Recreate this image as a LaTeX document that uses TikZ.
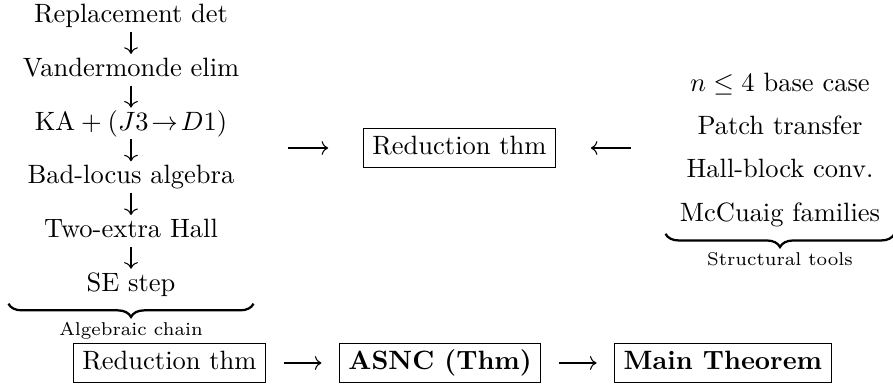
\documentclass[tikz,border=0pt]{standalone}
\usepackage{amsmath,amssymb}
\usetikzlibrary{arrows.meta, positioning, calc, fit, decorations.pathreplacing}

\begin{document}
\begin{tikzpicture}[
	x=0.3774pt, y=-0.3774pt,
	stage/.style={inner sep=1.3pt, text height=7pt, text depth=2pt},
	thmbox/.style={draw, line width=0.4pt, inner xsep=3.5pt, inner ysep=3pt, text height=7pt, text depth=2pt},
	note/.style={font=\scriptsize, anchor=base, inner sep=0pt},
	arrow/.style={-{Computer Modern Rightarrow}, line width=0.4pt},
	underbr/.style={decorate, decoration={brace, mirror, amplitude=5pt}, line width=0.85pt}
	]
	\useasboundingbox (0,0) rectangle (893,390);

	% algebraic chain
	\node[stage] (repl) at (131,16.1) {Replacement det};
	\node[stage, below=8.27pt of repl] (vand) {Vandermonde elim};
	\node[stage, below=8.27pt of vand] (ka) {KA${}+(J3\!\to\! D1)$};
	\node[stage, below=8.27pt of ka] (bad) {Bad-locus algebra};
	\node[stage, below=8.27pt of bad] (two) {Two-extra Hall};
	\node[stage, below=8.27pt of two] (se) {SE step};
	\node[fit=(repl)(vand)(ka)(bad)(two)(se), inner xsep=3.7pt, inner ysep=1pt] (chain) {};

	\draw[arrow] (repl) -- (vand);
	\draw[arrow] (vand) -- (ka);
	\draw[arrow] (ka) -- (bad);
	\draw[arrow] (bad) -- (two);
	\draw[arrow] (two) -- (se);
	\draw[underbr] (chain.south west) -- (chain.south east);
	\node[note] (chainlbl) at ([yshift=-12pt]chain.south) {Algebraic chain};

	% structural tools
	\node[stage] (base) at (780,84.4) {$n \leq 4$ base case};
	\node[stage, below=4.4pt of base] (patch) {Patch transfer};
	\node[stage, below=4.4pt of patch] (hall) {Hall-block conv.};
	\node[stage, below=4.4pt of hall] (mccu) {McCuaig families};
	\node[fit=(base)(patch)(hall)(mccu), inner xsep=3.7pt, inner ysep=1pt] (tools) {};
	\draw[underbr] (tools.south west) -- (tools.south east);
	\node[note] (toolslbl) at ([yshift=-12pt]tools.south) {Structural tools};

	% reduction
	\node[thmbox] (red) at (459.5,148) {Reduction thm};
	\draw[arrow, shorten <=13pt, shorten >=13pt] (chain.east |- red) -- (red);
	\draw[arrow, shorten <=13pt, shorten >=13pt] (tools.west |- red) -- (red);

	% bottom row
	\node[thmbox] (redb) at (169.5,363) {Reduction thm};
	\node[thmbox, right=27.3pt of redb, font=\bfseries] (asnc) {ASNC (Thm)};
	\node[thmbox, right=27.3pt of asnc, font=\bfseries] (main) {Main Theorem};
	\draw[arrow, shorten <=6.5pt, shorten >=6.5pt] (redb) -- (asnc);
	\draw[arrow, shorten <=6.5pt, shorten >=6.5pt] (asnc) -- (main);
\end{tikzpicture}
\end{document}
